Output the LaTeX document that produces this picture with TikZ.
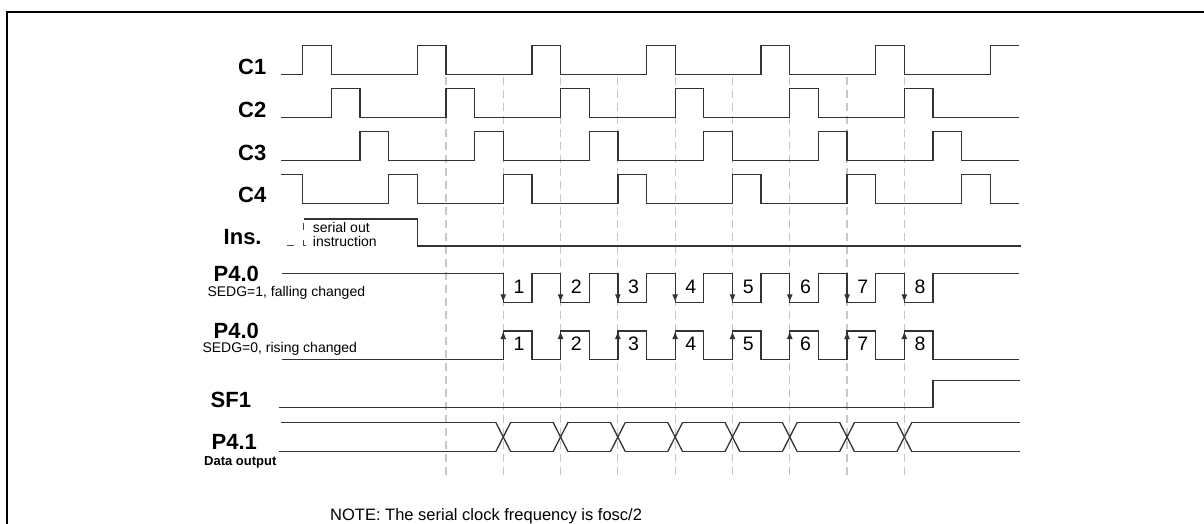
\documentclass[tikz,border=0pt]{standalone}
\usepackage{fontspec}
\setmainfont{Liberation Sans}
\usetikzlibrary{arrows.meta}
\begin{document}
\begin{tikzpicture}[x=1pt,y=-1pt,
  sig/.style={line width=1.3pt, draw=black!80, line join=miter},
  gridline/.style={line width=1.2pt, draw=black!22, dash pattern=on 8pt off 5pt},
  edgearrow/.style={line width=1.3pt, draw=black!80, -{Latex[length=8pt,width=6pt]}},
  big/.style={font=\fontsize{22}{26}\selectfont\bfseries, anchor=base west, inner sep=0pt},
  small/.style={font=\fontsize{14}{16}\selectfont, anchor=base west, inner sep=0pt},
  num/.style={font=\fontsize{19.5}{21}\selectfont, anchor=base, inner sep=0pt},
  frag/.style={line width=1pt, draw=black!70}]
\useasboundingbox (0,0) rectangle (1204,523);
% frame
\draw[line width=2.3pt] (7,560) -- (7,12) -- (1240,12);
% dashed guide lines
\foreach \k in {0,...,8} \draw[gridline] ({445.95+57.3*\k},77) -- ++(0,399);
% clocks
\draw[sig] (281,74.3) foreach \m in {0,...,5} { -- ({302.7+114.6*\m},74.3) -- ++(0,-28.6) -- ++(28.65,0) -- ++(0,28.6) } -- (990.3,74.3) -- ++(0,-28.6) -- (1019,45.7);
\draw[sig] (281,117.3) foreach \m in {0,...,5} { -- ({331.35+114.6*\m},117.3) -- ++(0,-28.6) -- ++(28.65,0) -- ++(0,28.6) } -- (1019,117.3);
\draw[sig] (281,160.3) foreach \m in {0,...,5} { -- ({360+114.6*\m},160.3) -- ++(0,-28.6) -- ++(28.65,0) -- ++(0,28.6) } -- (1019,160.3);
\draw[sig] (281,174.7) -- (302.7,174.7) -- (302.7,203.3) foreach \m in {0,...,5} { -- ({388.65+114.6*\m},203.3) -- ++(0,-28.6) -- ++(28.65,0) -- ++(0,28.6) } -- (1019,203.3);
% Ins.
\draw[sig] (304,219) -- (417.3,219) -- (417.3,246) -- (1021,246);
\draw[frag] (287,245.5) -- (294,245.5);
\draw[frag] (303,223) -- (303,230);
\draw[frag] (303,240) -- (303,245.5) -- (306,245.5);
% P4.0 falling
\draw[sig] (282,273.5) foreach \k in {0,...,7} { -- ({503.25+57.3*\k},273.5) -- ++(0,28.8) -- ++(28.65,0) -- ++(0,-28.8) } -- (1019,273.5);
\foreach \k in {0,...,7} \draw[edgearrow] ({503.25+57.3*\k},273.5) -- ++(0,28.8);
\foreach \k [evaluate=\k as \n using int(\k+1)] in {0,...,7} \node[num] (fa\n) at ({519+57.3*\k},293.8) {\n};
% P4.0 rising
\draw[sig] (282,359.6) foreach \k in {0,...,7} { -- ({503.25+57.3*\k},359.6) -- ++(0,-28.6) -- ++(28.65,0) -- ++(0,28.6) } -- (1019,359.6);
\foreach \k in {0,...,7} \draw[edgearrow] ({503.25+57.3*\k},359.6) -- ++(0,-28.6);
\foreach \k [evaluate=\k as \n using int(\k+1)] in {0,...,7} \node[num] (ri\n) at ({519+57.3*\k},350.5) {\n};
% SF1
\draw[sig] (279,407.7) -- (933,407.7) -- (933,380.7) -- (1020,380.7);
% P4.1
\draw[sig] (281,422.3) -- (495.75,422.3);
\draw[sig] (279.3,451.7) -- (495.75,451.7);
\foreach \k in {0,...,7} {
  \draw[sig] ({503.25+57.3*\k-7.5},422.3) -- ({503.25+57.3*\k+7.5},451.7);
  \draw[sig] ({503.25+57.3*\k-7.5},451.7) -- ({503.25+57.3*\k+7.5},422.3);
}
\foreach \k in {0,...,6} {
  \draw[sig] ({503.25+57.3*\k+7.5},422.3) -- ({503.25+57.3*(\k+1)-7.5},422.3);
  \draw[sig] ({503.25+57.3*\k+7.5},451.7) -- ({503.25+57.3*(\k+1)-7.5},451.7);
}
\draw[sig] (911.85,422.3) -- (1020,422.3);
\draw[sig] (911.85,451.7) -- (1020,451.7);
% labels
\node[big] (lc1) at (238,74) {C1};
\node[big] (lc2) at (238,117) {C2};
\node[big] (lc3) at (238,160) {C3};
\node[big] (lc4) at (238,202.5) {C4};
\node[big] (lins) at (223.5,244.5) {Ins.};
\node[small] (ser) at (312.7,232.7) {serial out};
\node[small] (ins2) at (312.7,246.7) {instruction};
\node[big] (lp40a) at (213.5,281.7) {P4.0};
\node[small] (sedg1) at (207.3,296.7) {SEDG=1, falling changed};
\node[big] (lp40b) at (213.5,338) {P4.0};
\node[small] (sedg0) at (202.3,352.5) {SEDG=0, rising changed};
\node[big] (lsf1) at (210.5,407.7) {SF1};
\node[big] (lp41) at (211.5,449.5) {P4.1};
\node[font=\fontsize{13}{15}\selectfont\bfseries, anchor=base west, inner sep=0pt] (ldata) at (204,465) {Data output};
\node[font=\fontsize{16.5}{18}\selectfont, anchor=base west, inner sep=0pt] (note) at (330,520) {NOTE: The serial clock frequency is fosc/2};
\end{tikzpicture}
\end{document}
